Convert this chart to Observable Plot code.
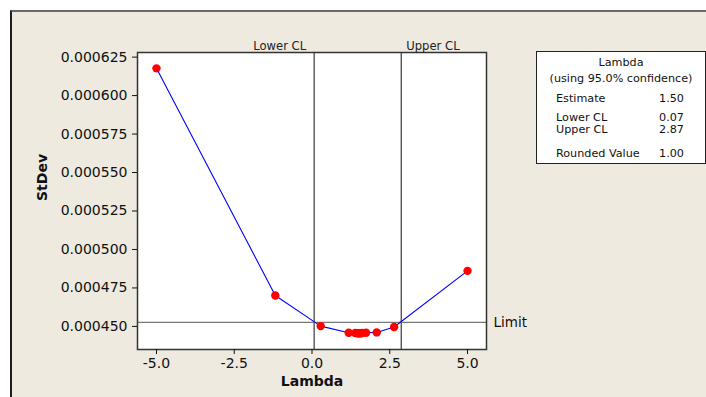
<!DOCTYPE html>
<html>
<head>
<meta charset="utf-8">
<script src="https://cdn.jsdelivr.net/npm/d3@7"></script>
<script src="https://cdn.jsdelivr.net/npm/@observablehq/plot@0.6"></script>
<style>
  html, body { margin: 0; padding: 0; background: #ffffff; }
  #wrap { position: relative; width: 706px; height: 397px; overflow: hidden; font-family: "DejaVu Sans", Verdana, sans-serif; }
  #bg { position: absolute; left: 10px; top: 10px; width: 696px; height: 387px; background: #eeeae0;
        border-top: 2px solid #6a6a6a; border-left: 2px solid #1e1e1e; box-sizing: border-box; }
  #chart { position: absolute; left: 0; top: 0; }
  #legend { position: absolute; left: 536px; top: 51px; width: 170px; height: 113px; background: #fff;
            border: 1.5px solid #222; box-sizing: border-box; font-size: 11.2px; color: #111; }
  .row { position: absolute; left: 0; right: 0; height: 12px; line-height: 12px; white-space: nowrap; }
  .c { text-align: center; }
  .l { position: absolute; left: 19px; }
  .v { position: absolute; right: 21px; }
</style>
</head>
<body>
<div id="wrap">
  <div id="bg"></div>
  <div id="chart"></div>
  <div id="legend"></div>
</div>
<script>
// Box-Cox plot data
const lambda = [-5, -1.18, 0.279, 1.18, 1.39, 1.45, 1.50, 1.53, 1.56, 1.61, 1.738, 2.08, 2.64, 5];
const stdev  = [0.0006177, 0.0004701, 0.0004502, 0.0004459, 0.0004457, 0.0004456, 0.0004456,
                0.0004456, 0.0004456, 0.0004457, 0.0004459, 0.0004461, 0.0004496, 0.0004861];

const clValues = [0.07, 2.87];
const clLabels = ["Lower CL", "Upper CL"];
const limitValue = 0.0004526;

const xTicks = [-5, -2.5, 0, 2.5, 5];
const yTicks = [0.00045, 0.000475, 0.0005, 0.000525, 0.00055, 0.000575, 0.0006, 0.000625];

const legendTitle = ["Lambda", "(using 95.0% confidence)"];
const legendLabels = ["Estimate", "Lower CL", "Upper CL", "Rounded Value"];
const legendValues = ["1.50", "0.07", "2.87", "1.00"];

const data = lambda.map((l, i) => ({lambda: l, stdev: stdev[i]}));
const cl = clValues.map((v, i) => ({v, label: clLabels[i]}));

const plot = Plot.plot({
  width: 706,
  height: 397,
  marginLeft: 137,
  marginRight: 220,
  marginTop: 52,
  marginBottom: 48,
  style: {background: "transparent", fontFamily: "DejaVu Sans, Verdana, sans-serif", fontSize: "14px", color: "#111"},
  x: {domain: [-5.61, 5.61]},
  y: {domain: [0.000435, 0.000628]},
  marks: [
    Plot.frame({fill: "white", stroke: null}),
    Plot.ruleX(cl, {x: "v", stroke: "#555", strokeWidth: 1.4}),
    Plot.ruleY([limitValue], {stroke: "#777", strokeWidth: 1.4}),
    Plot.line(data, {x: "lambda", y: "stdev", stroke: "#0000ff", strokeWidth: 1.1}),
    Plot.dot(data, {x: "lambda", y: "stdev", r: 4.2, fill: "#ff0000", stroke: "none"}),
    Plot.frame({stroke: "#333", strokeWidth: 1.5}),
    Plot.axisX({ticks: xTicks, tickFormat: d => d.toFixed(1), tickSize: 5, tickPadding: 4, label: null, fontSize: 14}),
    Plot.axisY({ticks: yTicks, tickFormat: d => d.toFixed(6), tickSize: 5, tickPadding: 5, label: null, fontSize: 14}),
    Plot.text([cl[0]], {x: "v", text: "label", frameAnchor: "top", lineAnchor: "middle", dy: -6, textAnchor: "end", dx: -8, fontSize: 11.6, fill: "#222"}),
    Plot.text([cl[1]], {x: "v", text: "label", frameAnchor: "top", lineAnchor: "middle", dy: -6, textAnchor: "start", dx: 5, fontSize: 11.6, fill: "#222"}),
    Plot.text([limitValue], {y: d => d, text: () => "Limit", frameAnchor: "right", textAnchor: "start", dx: 7, fontSize: 13.5, fill: "#111"}),
    Plot.text(["Lambda"], {text: d => d, frameAnchor: "bottom", dy: 32, lineAnchor: "middle", fontWeight: "bold", fontSize: 14, fill: "#111"}),
    Plot.text(["StDev"], {text: d => d, frameAnchor: "left", dx: -95, rotate: -90, fontWeight: "bold", fontSize: 14, fill: "#111"})
  ]
});
document.getElementById("chart").appendChild(plot);

// Legend box
const legend = document.getElementById("legend");
const titleTops = [5, 21];
legendTitle.forEach((t, i) => {
  const r = document.createElement("div");
  r.className = "row c";
  r.style.top = titleTops[i] + "px";
  r.textContent = t;
  legend.appendChild(r);
});
const rowTops = [41, 60, 72, 96];
legendLabels.forEach((t, i) => {
  const r = document.createElement("div");
  r.className = "row";
  r.style.top = rowTops[i] + "px";
  const a = document.createElement("span"); a.className = "l"; a.textContent = t;
  const b = document.createElement("span"); b.className = "v"; b.textContent = legendValues[i];
  r.appendChild(a); r.appendChild(b);
  legend.appendChild(r);
});
</script>
</body>
</html>
